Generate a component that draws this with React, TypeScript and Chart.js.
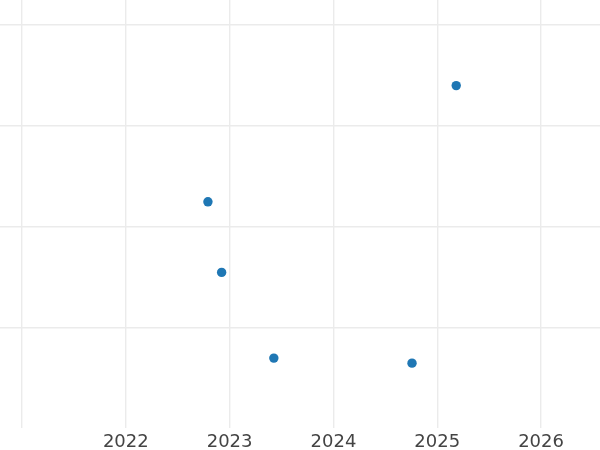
import React, { useEffect, useRef } from "react";
import { Chart, registerables } from "chart.js";

Chart.register(...registerables);

const xValues = [2025.183, 2022.791, 2022.923, 2023.426, 2024.757];
const yValues = [3.4, 2.246, 1.545, 0.694, 0.644];
const xTicks = [2021, 2022, 2023, 2024, 2025, 2026];
const yTicks = [1, 2, 3, 4];

export default function App() {
  const ref = useRef<HTMLCanvasElement | null>(null);
  useEffect(() => {
    if (!ref.current) return;
    const chart = new Chart(ref.current, {
      type: "scatter",
      data: {
        datasets: [
          {
            data: xValues.map((x, i) => ({ x, y: yValues[i] })),
            backgroundColor: "#1f77b4",
            borderColor: "#1f77b4",
            pointRadius: 4.7,
            pointHoverRadius: 4.7,
            borderWidth: 0,
          },
        ],
      },
      options: {
        animation: false,
        responsive: false,
        layout: { padding: { left: 0, right: 0, top: 0, bottom: -6 }, autoPadding: false },
        plugins: { legend: { display: false }, tooltip: { enabled: false } },
        scales: {
          x: {
            type: "linear",
            min: 2020.788,
            max: 2026.568,
            afterBuildTicks: (axis: any) => {
              axis.ticks = xTicks.map((v) => ({ value: v }));
            },
            grid: { color: "#ebebeb", lineWidth: 1.4, drawTicks: false },
            border: { display: false },
            ticks: {
              padding: 5,
              color: "#444444",
              font: { family: "DejaVu Sans", size: 18, lineHeight: 1 },
              callback: (v: any) => (v === 2021 ? "" : String(v)),
              maxRotation: 0,
              autoSkip: false,
            },
          },
          y: {
            type: "linear",
            min: 0,
            max: 4.25,
            afterBuildTicks: (axis: any) => {
              axis.ticks = yTicks.map((v) => ({ value: v }));
            },
            grid: { color: "#ebebeb", lineWidth: 1.4, drawTicks: false },
            border: { display: false },
            ticks: { display: false },
          },
        },
      },
    });
    return () => chart.destroy();
  }, []);
  return (
    <div style={{ position: "absolute", left: 0, top: 0, width: 600, height: 450, background: "#fff" }}>
      <canvas ref={ref} width={600} height={450} />
    </div>
  );
}
